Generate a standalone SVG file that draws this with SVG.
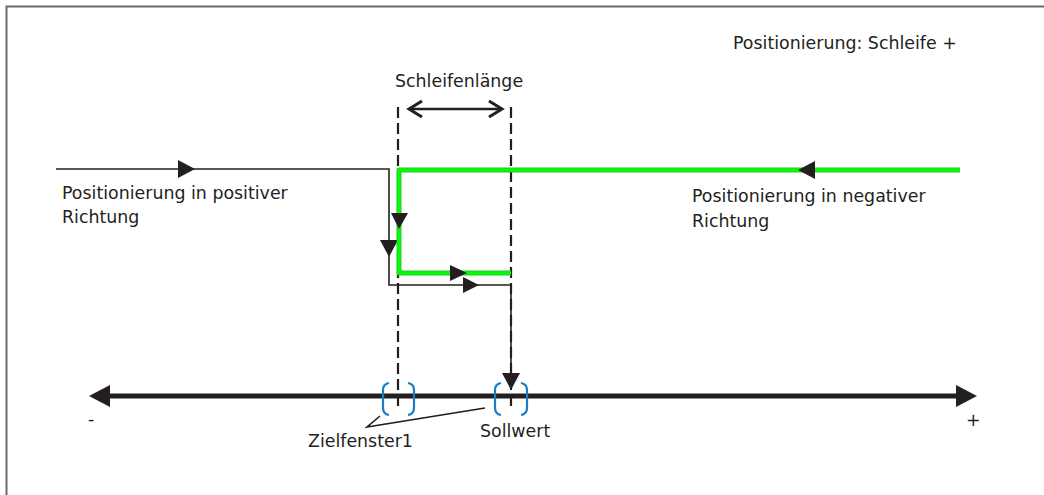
<svg xmlns="http://www.w3.org/2000/svg" width="1044" height="495" viewBox="0 0 1044 495">
<style>
  text { font-family: "DejaVu Sans", "Liberation Sans", sans-serif; font-size: 17.4px; fill: #231f20; }
  .thin { fill: none; stroke: #231f20; stroke-width: 1.6; }
  .dash { fill: none; stroke: #231f20; stroke-width: 2.2; stroke-dasharray: 11 5; }
  .gEdge { fill: none; stroke: #2cc42c; stroke-width: 5; stroke-linejoin: round; }
  .gCore { fill: none; stroke: #00ff00; stroke-width: 3; stroke-linejoin: round; }
  .head { fill: #231f20; }
  .brk { fill: none; stroke: #1a7dc4; stroke-width: 2.2; }
</style>
<rect x="0" y="0" width="1044" height="495" fill="#ffffff"/>
<path d="M6.5,495 L6.5,6.5 L1044,6.5" fill="none" stroke="#6b6b6b" stroke-width="2"/>

<g id="title"><text x="733" y="49">Positionierung: Schleife +</text></g>

<g id="axis">
  <line x1="105" y1="396" x2="961" y2="396" stroke="#231f20" stroke-width="5"/>
  <polygon class="head" points="89,396 110,385 110,407"/>
  <polygon class="head" points="977,396 956,385 956,407"/>
  <text x="88" y="425" font-size="14">-</text>
  <text x="966" y="426" font-size="15">+</text>
</g>

<g id="connectors">
  <line class="dash" x1="398" y1="107" x2="398" y2="410"/>
  <line class="dash" x1="511" y1="107" x2="511" y2="410"/>
  <line x1="409" y1="109" x2="502" y2="109" stroke="#231f20" stroke-width="2.5"/>
  <polyline points="422,101 409,109 422,117" fill="none" stroke="#231f20" stroke-width="3"/>
  <polyline points="489,101 502,109 489,117" fill="none" stroke="#231f20" stroke-width="3"/>
  <polyline class="thin" points="56,169 389,169 389,285 511,285 511,374"/>
  <polygon class="head" points="195,169 178,160 178,178"/>
  <polygon class="head" points="389,257 380,240 398,240"/>
  <polygon class="head" points="479,285 463,277 463,293"/>
  <polygon class="head" points="511,390 502,373 520,373"/>
  <polyline class="gEdge" points="960,170 399,170 399,273 511,273"/>
  <polyline class="gCore" points="960,170 399,170 399,273 511,273"/>
  <polygon class="head" points="798,170 815,161 815,179"/>
  <polygon class="head" points="399,229 391,213 408,213"/>
  <polygon class="head" points="467,273 450,265 450,281"/>
  <polyline class="thin" points="380,416 367,427 485,408"/>
</g>

<g id="zielfenster">
  <path class="brk" d="M389,383 Q383,384 383,390 L383,408 Q383,414 389,415"/>
  <path class="brk" d="M408,383 Q414,384 414,390 L414,408 Q414,414 408,415"/>
  <text x="308" y="447">Zielfenster1</text>
</g>

<g id="sollwert">
  <path class="brk" d="M501,383 Q495,384 495,390 L495,408 Q495,414 501,415"/>
  <path class="brk" d="M521,383 Q527,384 527,390 L527,408 Q527,414 521,415"/>
  <text x="480" y="437">Sollwert</text>
</g>

<g id="schleifenlaenge"><text x="395" y="87">Schleifenlänge</text></g>

<g id="pos-label">
  <text x="62" y="199">Positionierung in positiver</text>
  <text x="62" y="223">Richtung</text>
</g>

<g id="neg-label">
  <text x="692" y="202">Positionierung in negativer</text>
  <text x="692" y="227">Richtung</text>
</g>
</svg>
